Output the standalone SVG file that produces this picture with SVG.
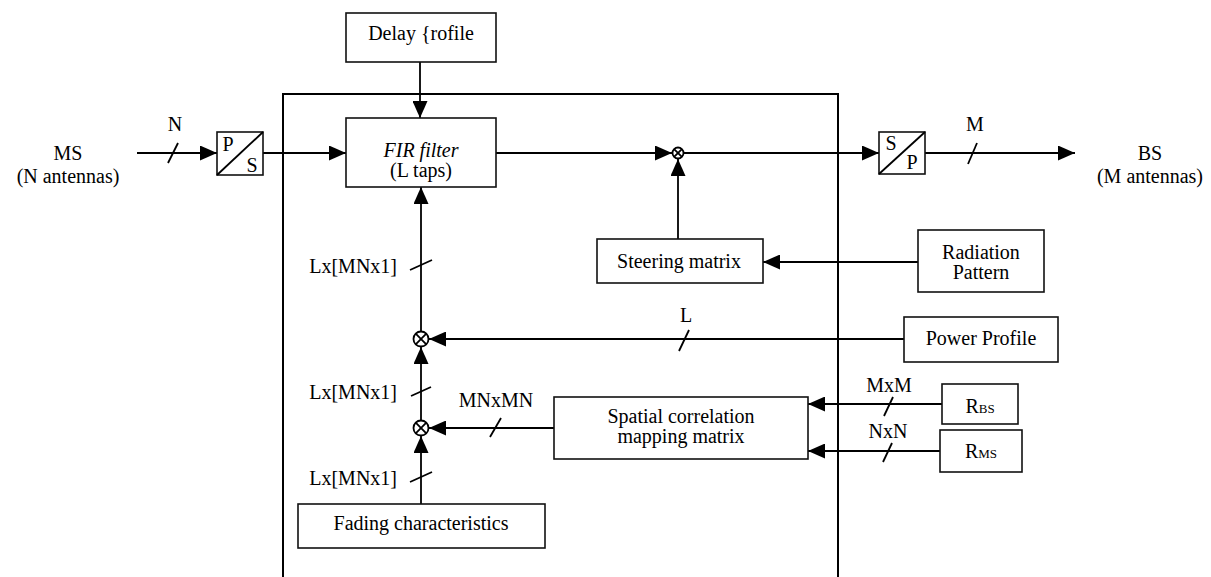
<svg xmlns="http://www.w3.org/2000/svg" width="1211" height="577" viewBox="0 0 1211 577" font-family="'Liberation Serif', 'Times New Roman', Times, serif">
<style>
text{font-family:'Liberation Serif','Times New Roman',Times,serif;font-size:20px;fill:#000}
.c{text-anchor:middle}
.r{text-anchor:end}
.box{fill:none;stroke:#111;stroke-width:1.6}
.ln{fill:none;stroke:#000;stroke-width:1.8}
.sl{fill:none;stroke:#000;stroke-width:1.8}
.mul{fill:#fff;stroke:#000;stroke-width:1.8}
.sub{font-size:13px}
</style>
<defs>
<marker id="ah" markerUnits="userSpaceOnUse" markerWidth="17" markerHeight="15" refX="17" refY="7.5" orient="auto">
<path d="M0,0 L17,7.5 L0,15 z" fill="#000"/>
</marker>
</defs>
<rect width="1211" height="577" fill="#fff"/>

<g id="frame">
<path d="M283,577 V94 H838 V577" fill="none" stroke="#000" stroke-width="2"/>
</g>

<g id="connectors">
<path class="ln" d="M137,153 H217" marker-end="url(#ah)"/>
<path class="ln" d="M263,153 H346" marker-end="url(#ah)"/>
<path class="ln" d="M420,62 V118" marker-end="url(#ah)"/>
<path class="ln" d="M496,153 H672" marker-end="url(#ah)"/>
<path class="ln" d="M683.5,153 H879" marker-end="url(#ah)"/>
<path class="ln" d="M925,153 H1075" marker-end="url(#ah)"/>
<path class="ln" d="M678,239 V159" marker-end="url(#ah)"/>
<path class="ln" d="M918,262 H763" marker-end="url(#ah)"/>
<path class="ln" d="M904,339 H429" marker-end="url(#ah)"/>
<path class="ln" d="M421,331.5 V187" marker-end="url(#ah)"/>
<path class="ln" d="M421,420.5 V347" marker-end="url(#ah)"/>
<path class="ln" d="M421,504 V436" marker-end="url(#ah)"/>
<path class="ln" d="M554,428 H429" marker-end="url(#ah)"/>
<path class="ln" d="M942,404 H808" marker-end="url(#ah)"/>
<path class="ln" d="M940,451 H808" marker-end="url(#ah)"/>
<path class="sl" d="M168,163 L178,143"/>
<path class="sl" d="M968,164 L977,143"/>
<path class="sl" d="M679,351 L689,330"/>
<path class="sl" d="M410,270 L432,260"/>
<path class="sl" d="M411,396 L431,387"/>
<path class="sl" d="M410,482 L432,472"/>
<path class="sl" d="M490,437 L501,418"/>
<path class="sl" d="M884,416 L893,397"/>
<path class="sl" d="M883,462 L892,443"/>
<text class="c" x="175" y="131">N</text>
<text class="c" x="975" y="131">M</text>
<text class="c" x="686" y="322">L</text>
<text class="r" x="397" y="273">Lx[MNx1]</text>
<text class="r" x="397" y="399">Lx[MNx1]</text>
<text class="r" x="397" y="485">Lx[MNx1]</text>
<text class="c" x="496" y="407">MNxMN</text>
<text class="c" x="889" y="392">MxM</text>
<text class="c" x="888" y="438">NxN</text>
</g>

<g id="ms">
<text class="c" x="68" y="160">MS</text>
<text class="c" x="68" y="183">(N antennas)</text>
</g>
<g id="bs">
<text class="c" x="1150" y="160">BS</text>
<text class="c" x="1150" y="183">(M antennas)</text>
</g>

<g id="ps">
<rect class="box" x="217" y="132" width="46" height="43"/>
<path class="ln" d="M217,175 L263,132"/>
<text class="c" x="228" y="151">P</text>
<text class="c" x="252" y="172">S</text>
</g>
<g id="sp">
<rect class="box" x="879" y="132" width="46" height="42"/>
<path class="ln" d="M879,174 L925,132"/>
<text class="c" x="891" y="150">S</text>
<text class="c" x="912" y="169">P</text>
</g>

<g id="delay">
<rect class="box" x="346" y="13" width="150" height="49"/>
<text class="c" x="421" y="40">Delay {rofile</text>
</g>
<g id="fir">
<rect class="box" x="346" y="118" width="150" height="69"/>
<text class="c" x="421" y="157" font-style="italic">FIR filter</text>
<text class="c" x="421" y="177">(L taps)</text>
</g>
<g id="steering">
<rect class="box" x="597" y="239" width="166" height="44"/>
<text class="c" x="679" y="268">Steering matrix</text>
</g>
<g id="radiation">
<rect class="box" x="918" y="230" width="126" height="62"/>
<text class="c" x="981" y="259">Radiation</text>
<text class="c" x="981" y="279">Pattern</text>
</g>
<g id="power">
<rect class="box" x="904" y="317" width="154" height="45"/>
<text class="c" x="981" y="345">Power Profile</text>
</g>
<g id="spatial">
<rect class="box" x="554" y="397" width="254" height="62"/>
<text class="c" x="681" y="423">Spatial correlation</text>
<text class="c" x="681" y="443">mapping matrix</text>
</g>
<g id="rbs">
<rect class="box" x="942" y="384" width="76" height="40"/>
<text class="c" x="980" y="413">R<tspan class="sub">BS</tspan></text>
</g>
<g id="rms">
<rect class="box" x="940" y="430" width="82" height="42"/>
<text class="c" x="981" y="458">R<tspan class="sub">MS</tspan></text>
</g>
<g id="fading">
<rect class="box" x="298" y="504" width="247" height="44"/>
<text class="c" x="421" y="530">Fading characteristics</text>
</g>

<g id="mult1">
<circle class="mul" cx="678" cy="153" r="5.5"/>
<path class="ln" d="M674.1,149.1 L681.9,156.9 M681.9,149.1 L674.1,156.9" stroke-width="1.4"/>
</g>
<g id="mult2">
<circle class="mul" cx="421" cy="339" r="7.5"/>
<path class="ln" d="M415.7,333.7 L426.3,344.3 M426.3,333.7 L415.7,344.3" stroke-width="1.5"/>
</g>
<g id="mult3">
<circle class="mul" cx="421" cy="428" r="7.5"/>
<path class="ln" d="M415.7,422.7 L426.3,433.3 M426.3,422.7 L415.7,433.3" stroke-width="1.5"/>
</g>
</svg>
